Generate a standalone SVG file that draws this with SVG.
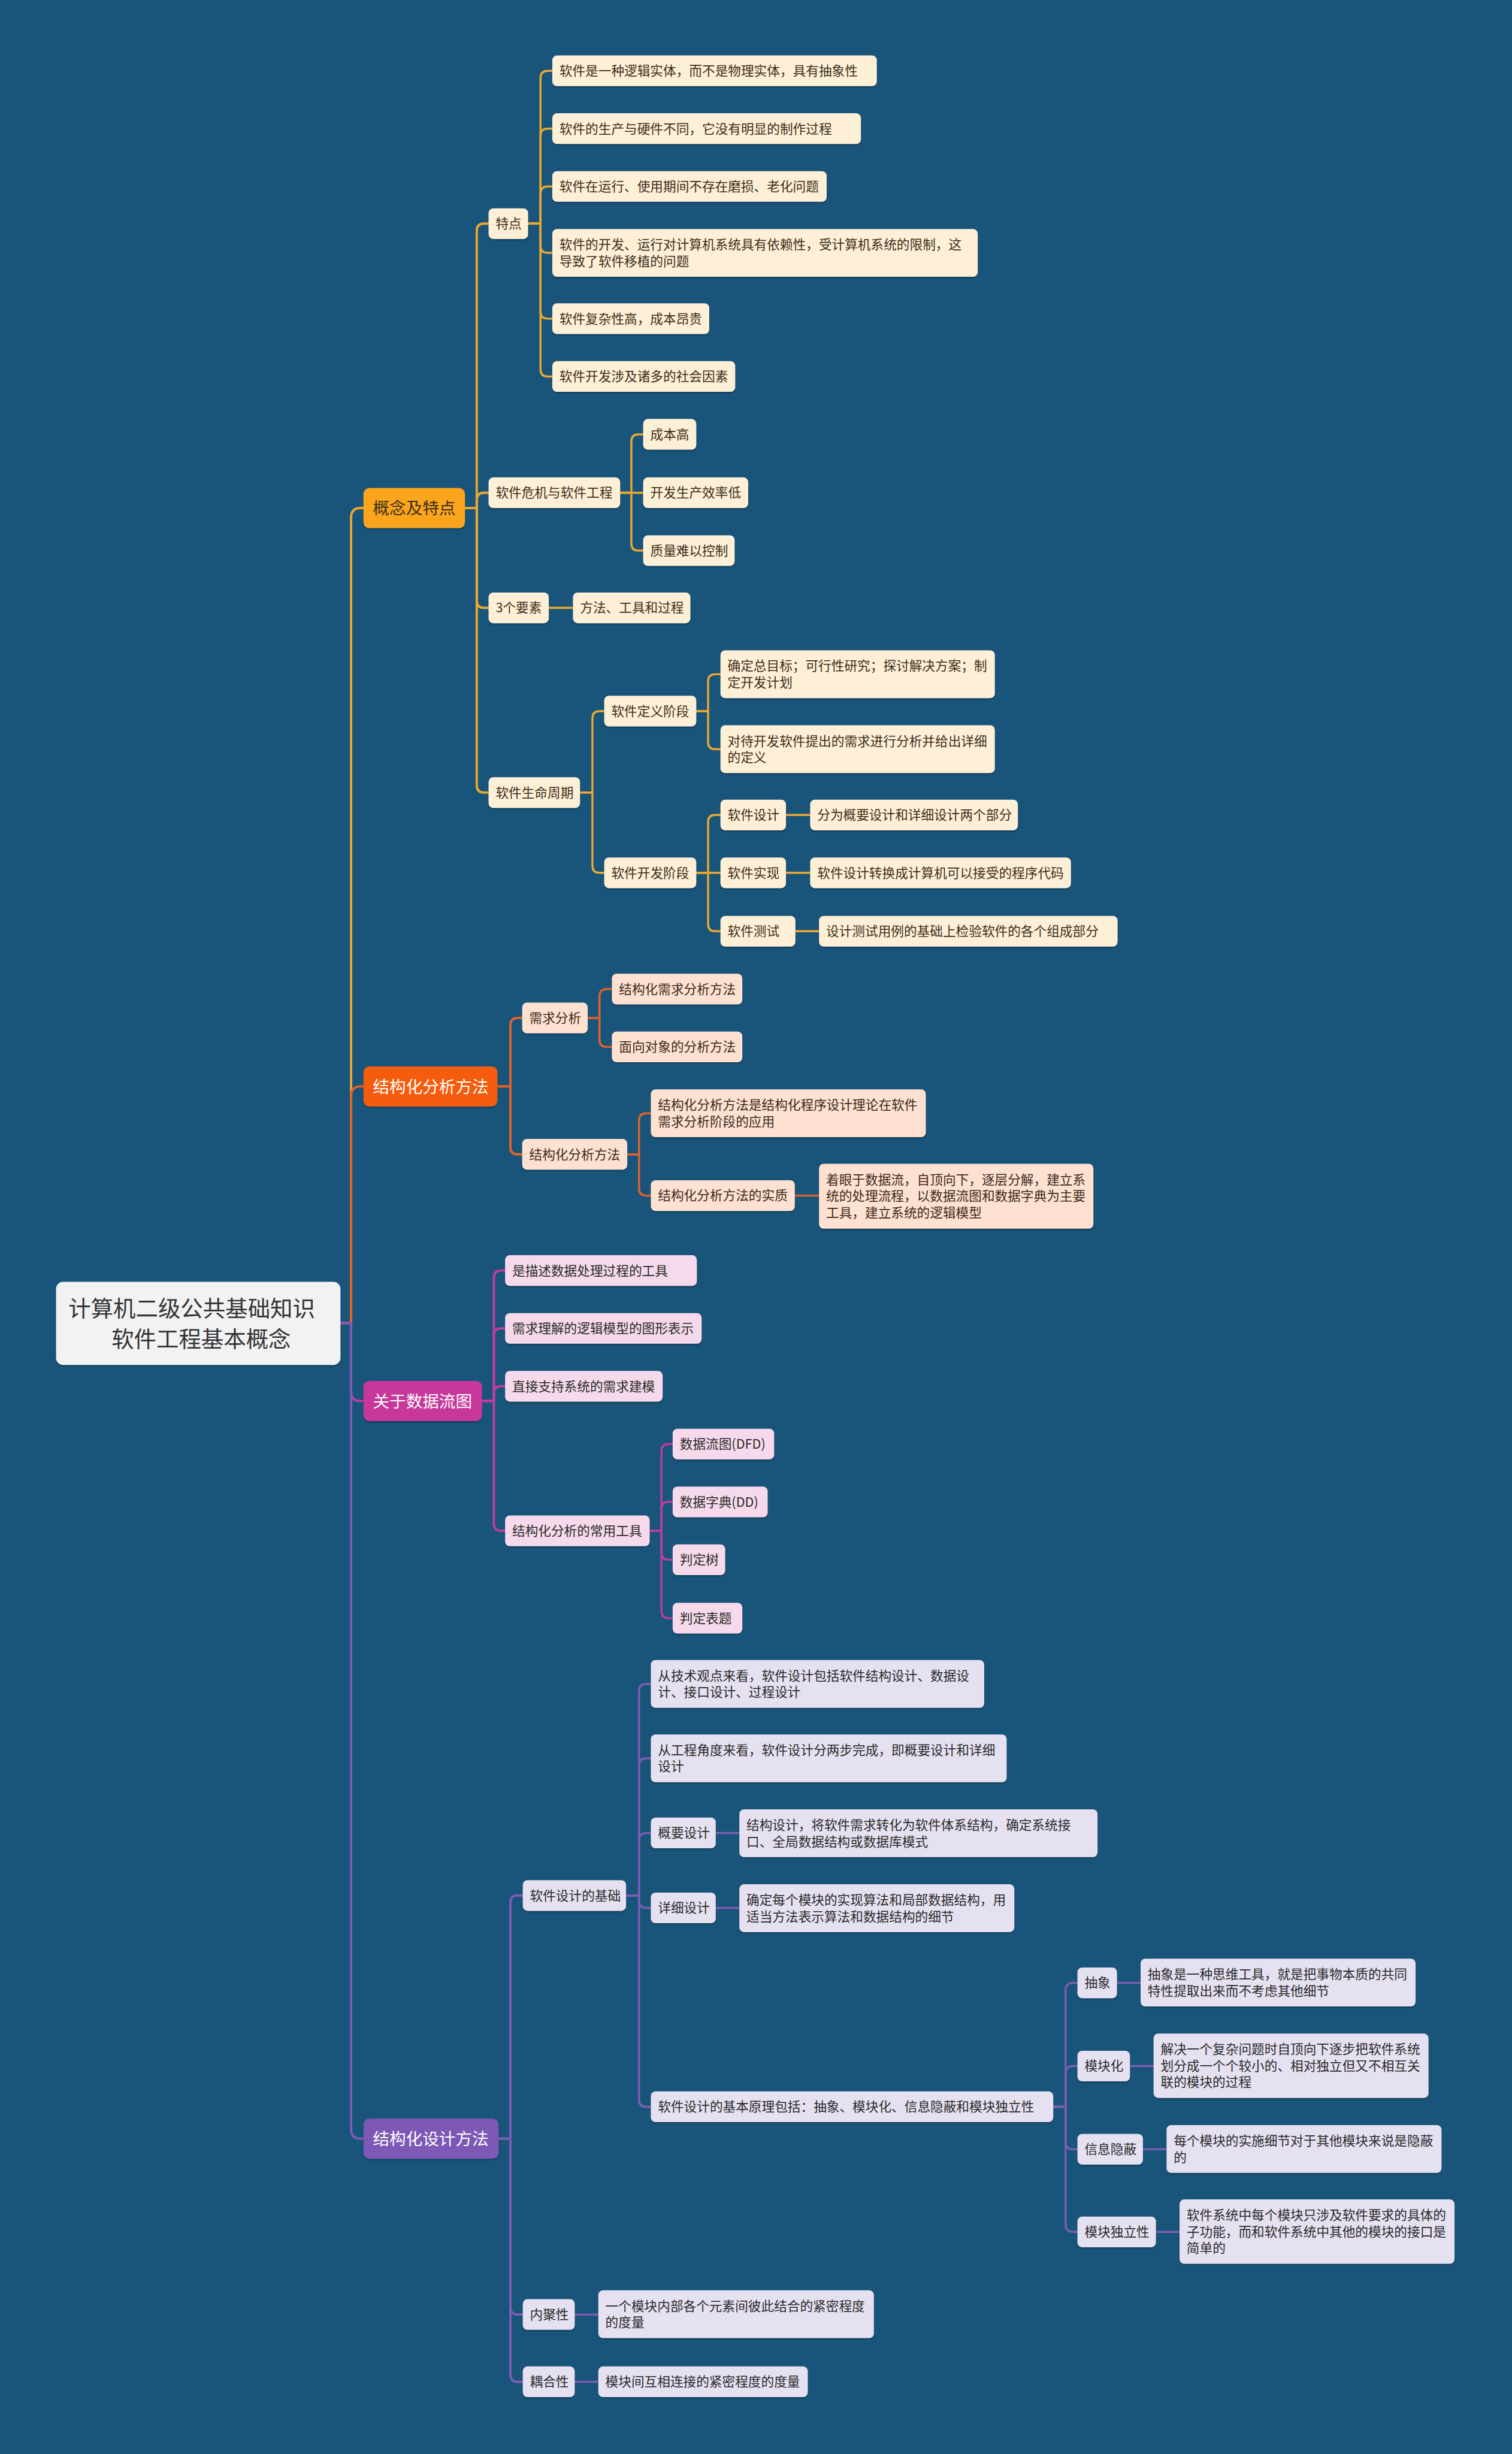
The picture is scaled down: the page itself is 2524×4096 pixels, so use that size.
<svg xmlns="http://www.w3.org/2000/svg" width="2524" height="4096" viewBox="0 0 2524 4096">
<defs>
<filter id="sh" x="-5%" y="-10%" width="110%" height="130%"><feDropShadow dx="0" dy="2" stdDeviation="1" flood-color="#000" flood-opacity="0.3"/></filter>
<style>
.c{fill:none;stroke-linecap:round;stroke-linejoin:round;stroke-width:3.5}
.w{stroke-width:4}
.c1{stroke:#E9A832}.c2{stroke:#E2622B}.c3{stroke:#BE3D9D}.c4{stroke:#7C5DB3}
text{font-family:"Noto Sans CJK SC","Noto Sans",sans-serif;font-size:22px}
.tm{font-size:28px}.tr{font-size:38px;fill:#333}
rect{filter:url(#sh)}
.f1{fill:#FEF0D7}.x1{fill:#3D2E1A}
.f2{fill:#FEE1D1}.x2{fill:#3D2A20}
.f3{fill:#F6DAEB}.x3{fill:#2A2A2A}
.f4{fill:#E6E1F1}.x4{fill:#2A2A2A}
.m1{fill:#FAA51E}.m2{fill:#F65B0B}.m3{fill:#C8389A}.m4{fill:#7D58B5}
.wt{fill:#fff}
</style>
</defs>
<rect x="0" y="0" width="2524" height="4096" fill="#19547A" style="filter:none"/>
<g transform="scale(0.985)">
<g id="connectors">
<g class="c c1">
<path class="w" d="M577 2242H595V877Q595 861 611 861H616"/>
<path class="w" d="M788 861H808V391Q808 379 820 379H828"/>
<path class="w" d="M788 861H808V847Q808 835 820 835H828"/>
<path class="w" d="M788 861H808V1018Q808 1030 820 1030H828"/>
<path class="w" d="M788 861H808V1331Q808 1343 820 1343H828"/>
<path d="M894 379H916V132Q916 120 928 120H936"/>
<path d="M894 379H916V230Q916 218 928 218H936"/>
<path d="M894 379H916V328Q916 316 928 316H936"/>
<path d="M894 379H916V416.5Q916 428.5 928 428.5H936"/>
<path d="M894 379H916V528Q916 540 928 540H936"/>
<path d="M894 379H916V626Q916 638 928 638H936"/>
<path d="M1051 835H1070V748Q1070 736 1082 736H1090"/>
<path d="M1051 835H1090"/>
<path d="M1051 835H1070V921Q1070 933 1082 933H1090"/>
<path d="M930 1030H971"/>
<path d="M983 1343H1004V1217Q1004 1205 1016 1205H1024"/>
<path d="M983 1343H1004V1467Q1004 1479 1016 1479H1024"/>
<path d="M1180 1205H1200V1154.5Q1200 1142.5 1212 1142.5H1221"/>
<path d="M1180 1205H1200V1257.5Q1200 1269.5 1212 1269.5H1221"/>
<path d="M1180 1479H1200V1393Q1200 1381 1212 1381H1221"/>
<path d="M1180 1479H1221"/>
<path d="M1180 1479H1200V1566Q1200 1578 1212 1578H1221"/>
<path d="M1332 1381H1373"/>
<path d="M1332 1479H1373"/>
<path d="M1348 1578H1388"/>
</g>
<g class="c c2">
<path class="w" d="M577 2242H595V1857Q595 1841 611 1841H616"/>
<path class="w" d="M843 1841H865V1737Q865 1725 877 1725H885"/>
<path class="w" d="M843 1841H865V1944Q865 1956 877 1956H885"/>
<path d="M996 1725H1016V1688Q1016 1676 1028 1676H1037"/>
<path d="M996 1725H1016V1762Q1016 1774 1028 1774H1037"/>
<path d="M1063 1956H1083V1898.5Q1083 1886.5 1095 1886.5H1103"/>
<path d="M1063 1956H1083V2014Q1083 2026 1095 2026H1103"/>
<path d="M1347 2026H1388"/>
</g>
<g class="c c3">
<path class="w" d="M577 2242H595V2358Q595 2374 611 2374H616"/>
<path class="w" d="M817 2374H837V2165Q837 2153 849 2153H856"/>
<path class="w" d="M817 2374H837V2263Q837 2251 849 2251H856"/>
<path class="w" d="M817 2374H837V2361Q837 2349 849 2349H856"/>
<path class="w" d="M817 2374H837V2582Q837 2594 849 2594H856"/>
<path d="M1101 2594H1121V2459Q1121 2447 1133 2447H1140"/>
<path d="M1101 2594H1121V2557Q1121 2545 1133 2545H1140"/>
<path d="M1101 2594H1121V2631Q1121 2643 1133 2643H1140"/>
<path d="M1101 2594H1121V2730Q1121 2742 1133 2742H1140"/>
</g>
<g class="c c4">
<path class="w" d="M577 2242H595V3608Q595 3624 611 3624H616"/>
<path class="w" d="M845 3624H865V3224Q865 3212 877 3212H886"/>
<path class="w" d="M845 3624H865V3910Q865 3922 877 3922H886"/>
<path class="w" d="M845 3624H865V4024Q865 4036 877 4036H886"/>
<path d="M1061 3212H1083V2865.5Q1083 2853.5 1095 2853.5H1103"/>
<path d="M1061 3212H1083V2991.5Q1083 2979.5 1095 2979.5H1103"/>
<path d="M1061 3212H1083V3118Q1083 3106 1095 3106H1103"/>
<path d="M1061 3212H1083V3221Q1083 3233 1095 3233H1103"/>
<path d="M1061 3212H1083V3558Q1083 3570 1095 3570H1103"/>
<path d="M1213 3106H1253"/>
<path d="M1213 3233H1253"/>
<path d="M1785 3570H1806V3372Q1806 3360 1818 3360H1826"/>
<path d="M1785 3570H1806V3513Q1806 3501 1818 3501H1826"/>
<path d="M1785 3570H1806V3630Q1806 3642 1818 3642H1826"/>
<path d="M1785 3570H1806V3770Q1806 3782 1818 3782H1826"/>
<path d="M1893 3360H1933"/>
<path d="M1915 3501H1955"/>
<path d="M1937 3642H1977"/>
<path d="M1959 3782H1999"/>
<path d="M974 3922H1014"/>
<path d="M974 4036H1014"/>
</g>
</g>
<g id="nodes">
<g id="root"><rect x="95" y="2172" width="482" height="141" rx="12" fill="#F2F2F2"/><text class="tr" x="116" y="2231">计算机二级公共基础知识</text><text class="tr" x="189" y="2283">软件工程基本概念</text></g>

<g id="b1"><rect class="m1" x="616" y="827" width="172" height="68" rx="10"/><text class="tm x1" x="632" y="871.5">概念及特点</text></g>
<g id="b1-1"><rect class="f1" x="828" y="353" width="67" height="52" rx="8"/><text class="x1" x="840" y="387">特点</text></g>
<g id="b1-1-1"><rect class="f1" x="936" y="94" width="550" height="52" rx="8"/><text class="x1" x="948" y="128">软件是一种逻辑实体，而不是物理实体，具有抽象性</text></g>
<g id="b1-1-2"><rect class="f1" x="936" y="192" width="523" height="52" rx="8"/><text class="x1" x="948" y="226">软件的生产与硬件不同，它没有明显的制作过程</text></g>
<g id="b1-1-3"><rect class="f1" x="936" y="290" width="465" height="52" rx="8"/><text class="x1" x="948" y="324">软件在运行、使用期间不存在磨损、老化问题</text></g>
<g id="b1-1-4"><rect class="f1" x="936" y="388" width="721" height="81" rx="8"/><text class="x1" x="948" y="422.5">软件的开发、运行对计算机系统具有依赖性，受计算机系统的限制，这<tspan x="948" dy="28">导致了软件移植的问题</tspan></text></g>
<g id="b1-1-5"><rect class="f1" x="936" y="514" width="266" height="52" rx="8"/><text class="x1" x="948" y="548">软件复杂性高，成本昂贵</text></g>
<g id="b1-1-6"><rect class="f1" x="936" y="612" width="310" height="52" rx="8"/><text class="x1" x="948" y="646">软件开发涉及诸多的社会因素</text></g>
<g id="b1-2"><rect class="f1" x="828" y="809" width="223" height="52" rx="8"/><text class="x1" x="840" y="843">软件危机与软件工程</text></g>
<g id="b1-2-1"><rect class="f1" x="1090" y="710" width="90" height="52" rx="8"/><text class="x1" x="1102" y="744">成本高</text></g>
<g id="b1-2-2"><rect class="f1" x="1090" y="809" width="178" height="52" rx="8"/><text class="x1" x="1102" y="843">开发生产效率低</text></g>
<g id="b1-2-3"><rect class="f1" x="1090" y="907" width="155" height="52" rx="8"/><text class="x1" x="1102" y="941">质量难以控制</text></g>
<g id="b1-3"><rect class="f1" x="828" y="1004" width="102" height="52" rx="8"/><text class="x1" x="840" y="1038">3个要素</text></g>
<g id="b1-3-1"><rect class="f1" x="971" y="1004" width="199" height="52" rx="8"/><text class="x1" x="983" y="1038">方法、工具和过程</text></g>
<g id="b1-4"><rect class="f1" x="828" y="1317" width="155" height="52" rx="8"/><text class="x1" x="840" y="1351">软件生命周期</text></g>
<g id="b1-4-1"><rect class="f1" x="1024" y="1179" width="156" height="52" rx="8"/><text class="x1" x="1036" y="1213">软件定义阶段</text></g>
<g id="b1-4-1-1"><rect class="f1" x="1221" y="1102" width="465" height="81" rx="8"/><text class="x1" x="1233" y="1136.5">确定总目标；可行性研究；探讨解决方案；制<tspan x="1233" dy="28">定开发计划</tspan></text></g>
<g id="b1-4-1-2"><rect class="f1" x="1221" y="1229" width="465" height="81" rx="8"/><text class="x1" x="1233" y="1263.5">对待开发软件提出的需求进行分析并给出详细<tspan x="1233" dy="28">的定义</tspan></text></g>
<g id="b1-4-2"><rect class="f1" x="1024" y="1453" width="156" height="52" rx="8"/><text class="x1" x="1036" y="1487">软件开发阶段</text></g>
<g id="b1-4-2-1"><rect class="f1" x="1221" y="1355" width="111" height="52" rx="8"/><text class="x1" x="1233" y="1389">软件设计</text></g>
<g id="b1-4-2-2"><rect class="f1" x="1221" y="1453" width="111" height="52" rx="8"/><text class="x1" x="1233" y="1487">软件实现</text></g>
<g id="b1-4-2-3"><rect class="f1" x="1221" y="1552" width="127" height="52" rx="8"/><text class="x1" x="1233" y="1586">软件测试</text></g>
<g id="b1-4-2-1-1"><rect class="f1" x="1373" y="1355" width="352" height="52" rx="8"/><text class="x1" x="1385" y="1389">分为概要设计和详细设计两个部分</text></g>
<g id="b1-4-2-2-1"><rect class="f1" x="1373" y="1453" width="442" height="52" rx="8"/><text class="x1" x="1385" y="1487">软件设计转换成计算机可以接受的程序代码</text></g>
<g id="b1-4-2-3-1"><rect class="f1" x="1388" y="1552" width="506" height="52" rx="8"/><text class="x1" x="1400" y="1586">设计测试用例的基础上检验软件的各个组成部分</text></g>

<g id="b2"><rect class="m2" x="616" y="1807" width="227" height="68" rx="10"/><text class="tm wt" x="632" y="1851.5">结构化分析方法</text></g>
<g id="b2-1"><rect class="f2" x="885" y="1699" width="111" height="52" rx="8"/><text class="x2" x="897" y="1733">需求分析</text></g>
<g id="b2-1-1"><rect class="f2" x="1037" y="1650" width="221" height="52" rx="8"/><text class="x2" x="1049" y="1684">结构化需求分析方法</text></g>
<g id="b2-1-2"><rect class="f2" x="1037" y="1748" width="221" height="52" rx="8"/><text class="x2" x="1049" y="1782">面向对象的分析方法</text></g>
<g id="b2-2"><rect class="f2" x="885" y="1930" width="178" height="52" rx="8"/><text class="x2" x="897" y="1964">结构化分析方法</text></g>
<g id="b2-2-1"><rect class="f2" x="1103" y="1846" width="466" height="81" rx="8"/><text class="x2" x="1115" y="1880.5">结构化分析方法是结构化程序设计理论在软件<tspan x="1115" dy="28">需求分析阶段的应用</tspan></text></g>
<g id="b2-2-2"><rect class="f2" x="1103" y="2000" width="244" height="52" rx="8"/><text class="x2" x="1115" y="2034">结构化分析方法的实质</text></g>
<g id="b2-2-2-1"><rect class="f2" x="1388" y="1972" width="465" height="110" rx="8"/><text class="x2" x="1400" y="2007">着眼于数据流，自顶向下，逐层分解，建立系<tspan x="1400" dy="28">统的处理流程，以数据流图和数据字典为主要</tspan><tspan x="1400" dy="28">工具，建立系统的逻辑模型</tspan></text></g>

<g id="b3"><rect class="m3" x="616" y="2340" width="201" height="68" rx="10"/><text class="tm wt" x="632" y="2384.5">关于数据流图</text></g>
<g id="b3-1"><rect class="f3" x="856" y="2127" width="325" height="52" rx="8"/><text class="x3" x="868" y="2161">是描述数据处理过程的工具</text></g>
<g id="b3-2"><rect class="f3" x="856" y="2225" width="333" height="52" rx="8"/><text class="x3" x="868" y="2259">需求理解的逻辑模型的图形表示</text></g>
<g id="b3-3"><rect class="f3" x="856" y="2323" width="267" height="52" rx="8"/><text class="x3" x="868" y="2357">直接支持系统的需求建模</text></g>
<g id="b3-4"><rect class="f3" x="856" y="2568" width="245" height="52" rx="8"/><text class="x3" x="868" y="2602">结构化分析的常用工具</text></g>
<g id="b3-4-1"><rect class="f3" x="1140" y="2421" width="172" height="52" rx="8"/><text class="x3" x="1152" y="2455">数据流图(DFD)</text></g>
<g id="b3-4-2"><rect class="f3" x="1140" y="2519" width="161" height="52" rx="8"/><text class="x3" x="1152" y="2553">数据字典(DD)</text></g>
<g id="b3-4-3"><rect class="f3" x="1140" y="2617" width="89" height="52" rx="8"/><text class="x3" x="1152" y="2651">判定树</text></g>
<g id="b3-4-4"><rect class="f3" x="1140" y="2716" width="118" height="52" rx="8"/><text class="x3" x="1152" y="2750">判定表题</text></g>

<g id="b4"><rect class="m4" x="616" y="3590" width="229" height="68" rx="10"/><text class="tm wt" x="632" y="3634.5">结构化设计方法</text></g>
<g id="b4-1"><rect class="f4" x="886" y="3186" width="175" height="52" rx="8"/><text class="x4" x="898" y="3220">软件设计的基础</text></g>
<g id="b4-1-1"><rect class="f4" x="1103" y="2813" width="565" height="81" rx="8"/><text class="x4" x="1115" y="2847.5">从技术观点来看，软件设计包括软件结构设计、数据设<tspan x="1115" dy="28">计、接口设计、过程设计</tspan></text></g>
<g id="b4-1-2"><rect class="f4" x="1103" y="2939" width="603" height="81" rx="8"/><text class="x4" x="1115" y="2973.5">从工程角度来看，软件设计分两步完成，即概要设计和详细<tspan x="1115" dy="28">设计</tspan></text></g>
<g id="b4-1-3"><rect class="f4" x="1103" y="3080" width="110" height="52" rx="8"/><text class="x4" x="1115" y="3114">概要设计</text></g>
<g id="b4-1-3-1"><rect class="f4" x="1253" y="3066" width="607" height="81" rx="8"/><text class="x4" x="1265" y="3100.5">结构设计，将软件需求转化为软件体系结构，确定系统接<tspan x="1265" dy="28">口、全局数据结构或数据库模式</tspan></text></g>
<g id="b4-1-4"><rect class="f4" x="1103" y="3207" width="110" height="52" rx="8"/><text class="x4" x="1115" y="3241">详细设计</text></g>
<g id="b4-1-4-1"><rect class="f4" x="1253" y="3193" width="466" height="81" rx="8"/><text class="x4" x="1265" y="3227.5">确定每个模块的实现算法和局部数据结构，用<tspan x="1265" dy="28">适当方法表示算法和数据结构的细节</tspan></text></g>
<g id="b4-1-5"><rect class="f4" x="1103" y="3544" width="682" height="52" rx="8"/><text class="x4" x="1115" y="3578">软件设计的基本原理包括：抽象、模块化、信息隐蔽和模块独立性</text></g>
<g id="b4-1-5-1"><rect class="f4" x="1826" y="3334" width="67" height="52" rx="8"/><text class="x4" x="1838" y="3368">抽象</text></g>
<g id="b4-1-5-1-1"><rect class="f4" x="1933" y="3319" width="466" height="81" rx="8"/><text class="x4" x="1945" y="3353.5">抽象是一种思维工具，就是把事物本质的共同<tspan x="1945" dy="28">特性提取出来而不考虑其他细节</tspan></text></g>
<g id="b4-1-5-2"><rect class="f4" x="1826" y="3475" width="89" height="52" rx="8"/><text class="x4" x="1838" y="3509">模块化</text></g>
<g id="b4-1-5-2-1"><rect class="f4" x="1955" y="3446" width="466" height="109" rx="8"/><text class="x4" x="1967" y="3480.5">解决一个复杂问题时自顶向下逐步把软件系统<tspan x="1967" dy="28">划分成一个个较小的、相对独立但又不相互关</tspan><tspan x="1967" dy="28">联的模块的过程</tspan></text></g>
<g id="b4-1-5-3"><rect class="f4" x="1826" y="3616" width="111" height="52" rx="8"/><text class="x4" x="1838" y="3650">信息隐蔽</text></g>
<g id="b4-1-5-3-1"><rect class="f4" x="1977" y="3601" width="466" height="81" rx="8"/><text class="x4" x="1989" y="3635.5">每个模块的实施细节对于其他模块来说是隐蔽<tspan x="1989" dy="28">的</tspan></text></g>
<g id="b4-1-5-4"><rect class="f4" x="1826" y="3756" width="133" height="52" rx="8"/><text class="x4" x="1838" y="3790">模块独立性</text></g>
<g id="b4-1-5-4-1"><rect class="f4" x="1999" y="3727" width="466" height="109" rx="8"/><text class="x4" x="2011" y="3761.5">软件系统中每个模块只涉及软件要求的具体的<tspan x="2011" dy="28">子功能，而和软件系统中其他的模块的接口是</tspan><tspan x="2011" dy="28">简单的</tspan></text></g>
<g id="b4-2"><rect class="f4" x="886" y="3896" width="88" height="52" rx="8"/><text class="x4" x="898" y="3930">内聚性</text></g>
<g id="b4-2-1"><rect class="f4" x="1014" y="3881" width="467" height="81" rx="8"/><text class="x4" x="1026" y="3915.5">一个模块内部各个元素间彼此结合的紧密程度<tspan x="1026" dy="28">的度量</tspan></text></g>
<g id="b4-3"><rect class="f4" x="886" y="4010" width="88" height="52" rx="8"/><text class="x4" x="898" y="4044">耦合性</text></g>
<g id="b4-3-1"><rect class="f4" x="1014" y="4010" width="355" height="52" rx="8"/><text class="x4" x="1026" y="4044">模块间互相连接的紧密程度的度量</text></g>
</g>
</g>
</svg>
